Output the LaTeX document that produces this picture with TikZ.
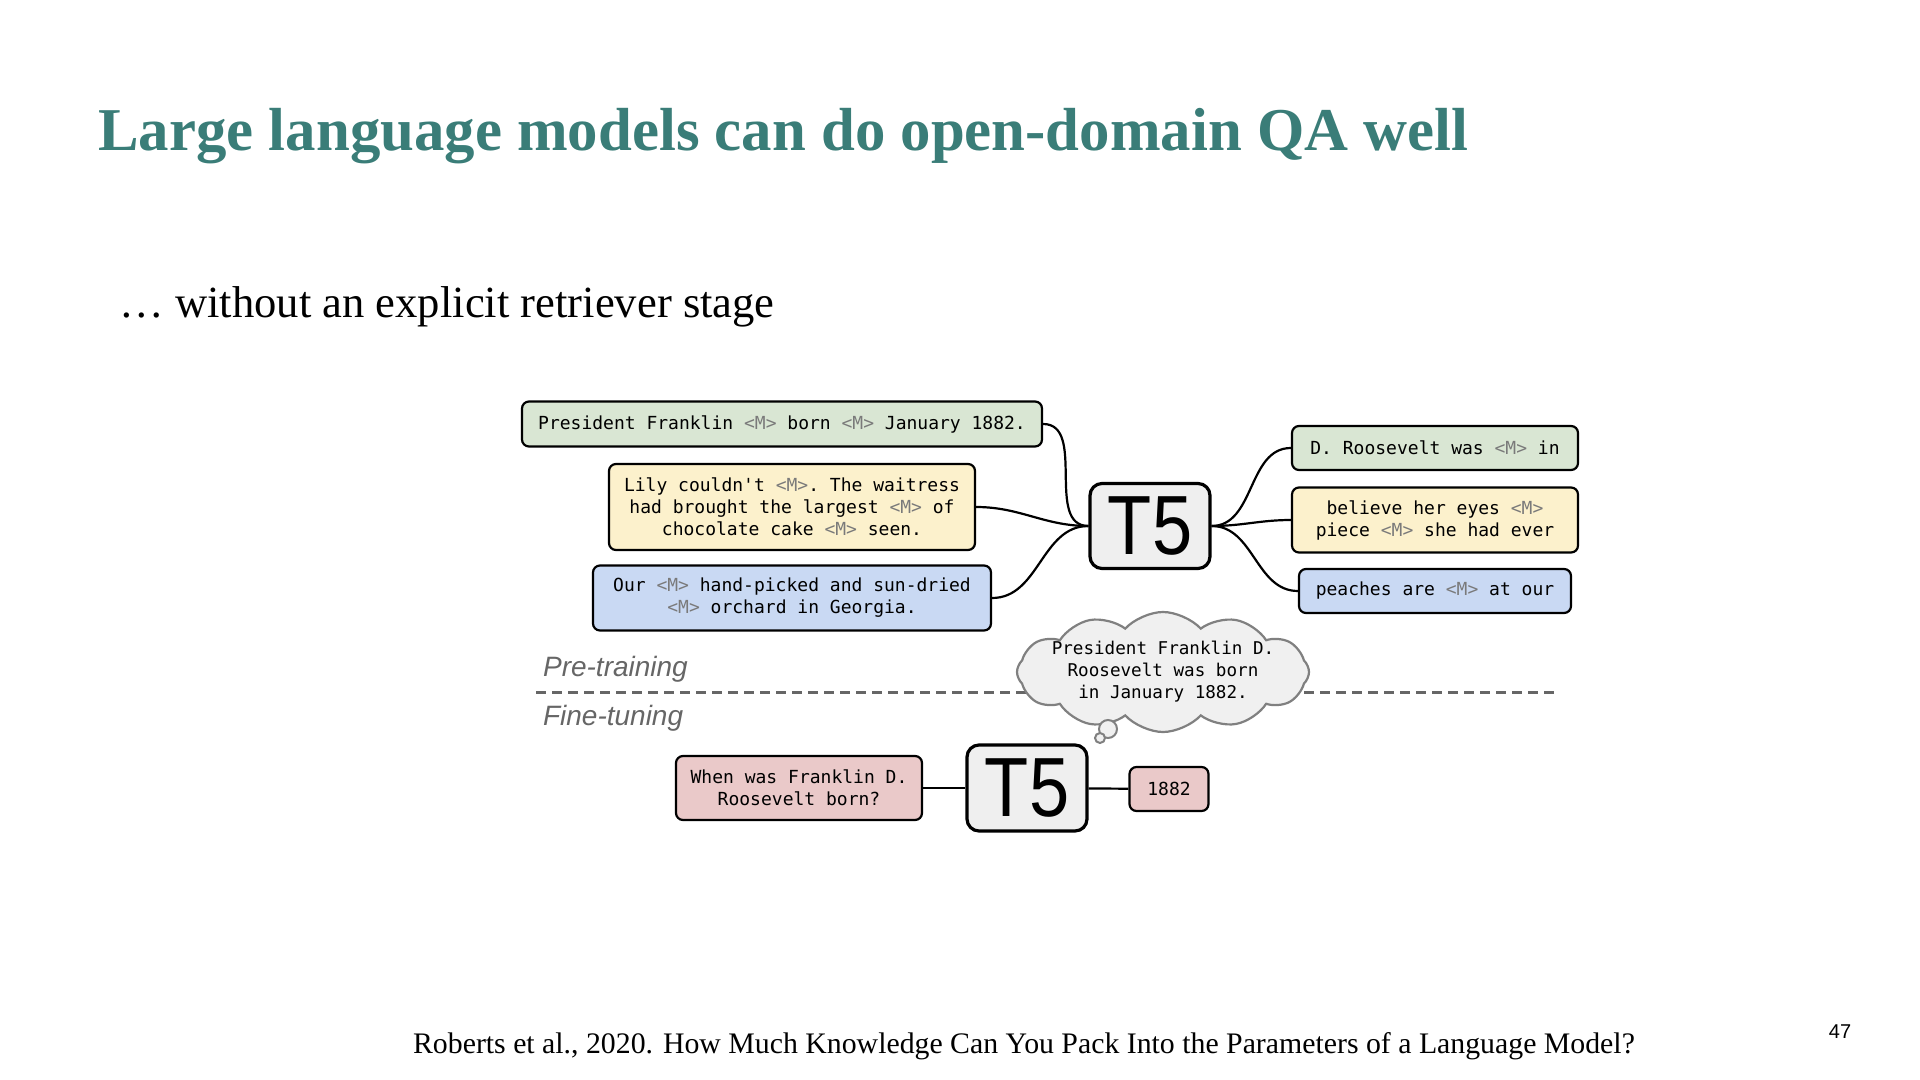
\documentclass[tikz,border=0pt]{standalone}
\usepackage{fontspec}
\usepackage{graphicx}
\setmainfont{Liberation Serif}
\setmonofont{DejaVu Sans Mono}
\newfontfamily\labelfont{Liberation Sans}
\usetikzlibrary{shapes.symbols, positioning}

\definecolor{titleteal}{HTML}{3A7D78}
\definecolor{boxgreen}{HTML}{D9E6D3}
\definecolor{boxyellow}{HTML}{FCF1CC}
\definecolor{boxblue}{HTML}{C9D9F3}
\definecolor{boxpink}{HTML}{EAC9C9}
\definecolor{modelgray}{HTML}{EFEFEF}
\definecolor{cloudgray}{HTML}{F0F0F0}
\definecolor{maskgray}{HTML}{7A7A7A}
\definecolor{phasegray}{HTML}{666666}

\newcommand{\mtok}{{\color{maskgray}<M>}}

\begin{document}
\begin{tikzpicture}[
  x=0.5pt, y=-0.5pt,
  txtbox/.style={rectangle, draw, rounded corners=3.5pt, line width=1.1pt, align=center,
    font=\ttfamily\fontsize{9}{11}\selectfont, inner sep=2pt},
  model/.style={rectangle, draw, rounded corners=6pt, line width=1.6pt, fill=modelgray,
    font=\labelfont\fontsize{42}{42}\selectfont, minimum width=60pt, minimum height=42.5pt, inner sep=0pt},
  link/.style={line width=1.1pt},
  phase/.style={anchor=west, text=phasegray, font=\labelfont\itshape\fontsize{14}{16}\selectfont},
  thought/.style={cloud, cloud puffs=12, cloud puff arc=95, cloud ignores aspect, draw=black!50,
    fill=cloudgray, line width=1.1pt, minimum width=146pt, minimum height=60pt, inner sep=0pt}
]
\useasboundingbox (0,0) rectangle (1920,1080);
\fill[white] (0,0) rectangle (1920,1080);

% slide text
\node[anchor=base west, text=titleteal, font=\bfseries\fontsize{30.4}{36}\selectfont, inner sep=0pt]
  (title) at (98,151) {Large language models can do open-domain QA well};
\node[anchor=base west, font=\fontsize{22.3}{26}\selectfont, inner sep=0pt]
  (subtitle) at (119,318) {\ldots{} without an explicit retriever stage};
\node[anchor=base, font=\fontsize{14.9}{17}\selectfont, inner sep=0pt]
  (cite) at (1024,1053) {Roberts et al., 2020. How Much Knowledge Can You Pack Into the Parameters of a Language Model?};
\node[anchor=base, font=\labelfont\fontsize{10}{12}\selectfont, inner sep=0pt]
  (pagenum) at (1840,1038) {47};

% pre-training inputs
\node[txtbox, fill=boxgreen, minimum width=260pt, minimum height=22.5pt] (pre1) at (782,424)
  {President Franklin \mtok{} born \mtok{} January 1882.};
\node[txtbox, fill=boxyellow, minimum width=183pt, minimum height=43pt] (pre2) at (792,507)
  {Lily couldn't \mtok. The waitress\\had brought the largest \mtok{} of\\chocolate cake \mtok{} seen.};
\node[txtbox, fill=boxblue, minimum width=199pt, minimum height=32.5pt] (pre3) at (792,598)
  {Our \mtok{} hand-picked and sun-dried\\\mtok{} orchard in Georgia.};

\node[model] (t5pre) at (1150,526) {\scalebox{0.86}[1]{T5}};

% pre-training targets
\node[txtbox, fill=boxgreen, minimum width=143pt, minimum height=22pt] (tgt1) at (1435,448)
  {D. Roosevelt was \mtok{} in};
\node[txtbox, fill=boxyellow, minimum width=143pt, minimum height=32.5pt] (tgt2) at (1435,520)
  {believe her eyes \mtok\\piece \mtok{} she had ever};
\node[txtbox, fill=boxblue, minimum width=136pt, minimum height=22pt] (tgt3) at (1435,591)
  {peaches are \mtok{} at our};

\draw[link] (pre1.east) to[out=0, in=180] (t5pre.west);
\draw[link] (pre2.east) to[out=0, in=180] (t5pre.west);
\draw[link] (pre3.east) to[out=0, in=180] (t5pre.west);
\draw[link] (t5pre.east) to[out=0, in=180] (tgt1.west);
\draw[link] (t5pre.east) to[out=0, in=180] (tgt2.west);
\draw[link] (t5pre.east) to[out=0, in=180] (tgt3.west);

% phase split
\coordinate (splitL) at (536,692);
\coordinate (splitR) at (1558,692);
\draw[phasegray, line width=1.5pt, dash pattern=on 5pt off 3pt] (splitL) -- (splitR);
\node[phase] (ptlabel) at (536,669) {Pre-training};
\node[phase] (ftlabel) at (536,718) {Fine-tuning};

% what T5 remembers
\node[thought, label={[font=\ttfamily\fontsize{8.8}{11}\selectfont, align=center]center:President Franklin D.\\Roosevelt was born\\in January 1882.}]
  (memory) at (1163,672) {};
\draw[draw=black!50, fill=cloudgray, line width=1pt] (1108,729) circle (4.5pt);
\draw[draw=black!50, fill=cloudgray, line width=1pt] (1100,738) circle (2.5pt);

% fine-tuning
\node[txtbox, fill=boxpink, minimum width=123pt, minimum height=32pt] (question) at (799,788)
  {When was Franklin D.\\Roosevelt born?};
\node[model, minimum height=43pt] (t5ft) at (1027,788) {\scalebox{0.86}[1]{T5}};
\node[txtbox, fill=boxpink, minimum width=39.5pt, minimum height=22pt] (answer) at (1169,789) {1882};

\draw[link] (question) -- (t5ft);
\draw[link] (t5ft) -- (answer);

\end{tikzpicture}
\end{document}
